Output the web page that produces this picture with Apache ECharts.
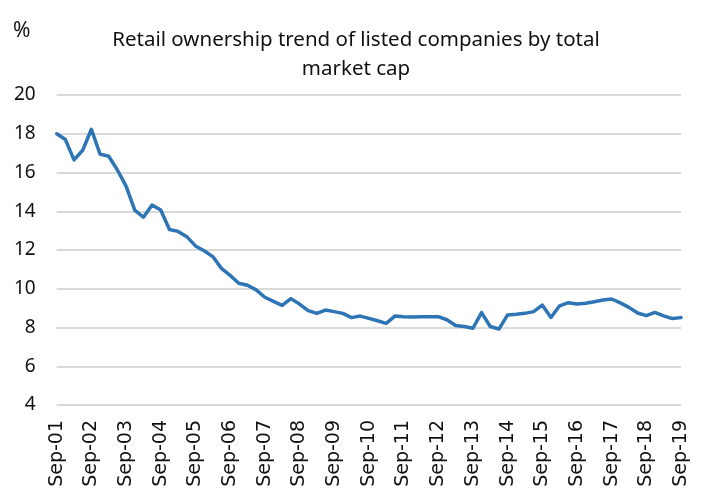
<!DOCTYPE html>
<html>
<head>
<meta charset="utf-8">
<script src="https://cdn.jsdelivr.net/npm/echarts@6/dist/echarts.min.js"></script>
<style>
  html, body { margin: 0; padding: 0; background: #fff; }
  #chart { width: 709px; height: 489px; }
</style>
</head>
<body>
<div id="chart"></div>
<script>
// Quarter-end labels, Sep-01 through Sep-19
const quarters = [
  'Sep-01','Dec-01','Mar-02','Jun-02','Sep-02','Dec-02','Mar-03','Jun-03',
  'Sep-03','Dec-03','Mar-04','Jun-04','Sep-04','Dec-04','Mar-05','Jun-05',
  'Sep-05','Dec-05','Mar-06','Jun-06','Sep-06','Dec-06','Mar-07','Jun-07',
  'Sep-07','Dec-07','Mar-08','Jun-08','Sep-08','Dec-08','Mar-09','Jun-09',
  'Sep-09','Dec-09','Mar-10','Jun-10','Sep-10','Dec-10','Mar-11','Jun-11',
  'Sep-11','Dec-11','Mar-12','Jun-12','Sep-12','Dec-12','Mar-13','Jun-13',
  'Sep-13','Dec-13','Mar-14','Jun-14','Sep-14','Dec-14','Mar-15','Jun-15',
  'Sep-15','Dec-15','Mar-16','Jun-16','Sep-16','Dec-16','Mar-17','Jun-17',
  'Sep-17','Dec-17','Mar-18','Jun-18','Sep-18','Dec-18','Mar-19','Jun-19',
  'Sep-19'
];

// Retail ownership share of total market cap, %
const retailShare = [
  18.0, 17.7, 16.65, 17.15, 18.23, 16.95, 16.84, 16.13,
  15.3, 14.06, 13.69, 14.32, 14.06, 13.06, 12.96, 12.69,
  12.21, 11.96, 11.66, 11.05, 10.69, 10.28, 10.18, 9.94,
  9.56, 9.35, 9.14, 9.49, 9.21, 8.87, 8.73, 8.9,
  8.82, 8.73, 8.51, 8.59, 8.47, 8.35, 8.21, 8.59,
  8.56, 8.54, 8.56, 8.56, 8.56, 8.4, 8.1, 8.05,
  7.96, 8.77, 8.05, 7.92, 8.65, 8.68, 8.73, 8.82,
  9.16, 8.52, 9.12, 9.28, 9.21, 9.25, 9.33, 9.42,
  9.47, 9.27, 9.04, 8.75, 8.61, 8.78, 8.6, 8.46,
  8.51
];

const yTicks = { min: 4, max: 20, step: 2 };

const FONT = '"Noto Sans", Roboto, sans-serif';
const WIDE_FONT = '"DejaVu Sans", "Noto Sans", sans-serif';

const chart = echarts.init(document.getElementById('chart'), null, { renderer: 'canvas' });

chart.setOption({
  animation: false,
  backgroundColor: '#ffffff',
  textStyle: { fontFamily: FONT },
  title: {
    text: 'Retail ownership trend of listed companies by total\nmarket cap',
    left: 351,
    top: 21,
    textAlign: 'center',
    textStyle: {
      fontSize: 20.5,
      fontWeight: 'normal',
      color: '#111',
      lineHeight: 29,
      fontFamily: FONT
    }
  },
  graphic: [{
    type: 'text',
    left: 13,
    top: 21,
    style: { text: '%', fontSize: 21, fill: '#111', fontFamily: FONT }
  }],
  grid: {
    left: 56.7,
    right: 28,
    top: 95,
    bottom: 84,
    outerBoundsMode: 'none'
  },
  xAxis: {
    type: 'category',
    data: quarters,
    boundaryGap: false,
    axisLine: { show: false },
    axisTick: { show: false },
    axisLabel: {
      interval: 3,
      rotate: 90,
      margin: 15,
      fontSize: 19,
      fontFamily: WIDE_FONT,
      color: '#111'
    },
    splitLine: { show: false }
  },
  yAxis: {
    type: 'value',
    min: yTicks.min,
    max: yTicks.max,
    interval: yTicks.step,
    axisLine: { show: false },
    axisTick: { show: false },
    axisLabel: { fontSize: 19, color: '#111', margin: 21 },
    splitLine: { lineStyle: { color: '#d9d9d9', width: 2 } }
  },
  series: [{
    type: 'line',
    data: retailShare,
    symbol: 'none',
    smooth: false,
    lineStyle: { color: '#2e75b6', width: 3.5, join: 'round', cap: 'round' }
  }]
});
</script>
</body>
</html>
